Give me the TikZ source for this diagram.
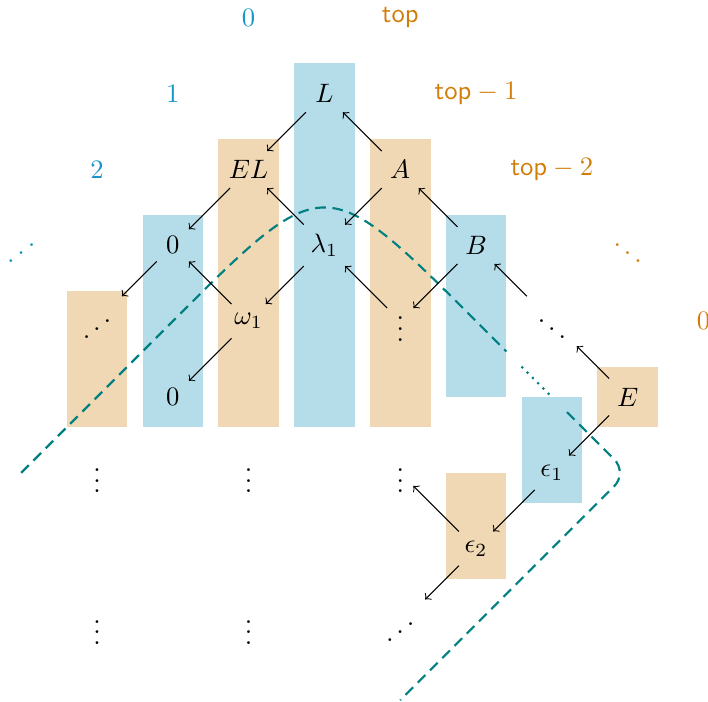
\documentclass[tikz,border=0pt]{standalone}
\usetikzlibrary{arrows}
\definecolor{barblue}{RGB}{180,221,233}
\definecolor{barorange}{RGB}{240,216,180}
\definecolor{lblblue}{RGB}{22,150,200}
\definecolor{lblorange}{RGB}{208,125,10}
\newcommand{\myiddots}{\reflectbox{$\ddots$}}
\begin{document}
\begin{tikzpicture}[
  bluebar/.style={fill=barblue,draw=none},
  orangebar/.style={fill=barorange,draw=none},
  bluelbl/.style={text=lblblue},
  orangelbl/.style={text=lblorange},
  arr/.style={->,black,line width=0.4pt},
  curvedash/.style={teal,line width=0.8pt,dash pattern=on 4pt off 2.5pt},
  curvedot/.style={teal,line width=0.8pt,dotted}
]
\useasboundingbox (-1.28,-9.02) rectangle (8.06,0.237);
% bars
\fill[orangebar] (-0.4,-3.6) rectangle (0.4,-5.4);
\fill[bluebar] (0.6,-2.6) rectangle (1.4,-5.4);
\fill[orangebar] (1.6,-1.6) rectangle (2.4,-5.4);
\fill[bluebar] (2.6,-0.6) rectangle (3.4,-5.4);
\fill[orangebar] (3.6,-1.6) rectangle (4.4,-5.4);
\fill[bluebar] (4.6,-2.6) rectangle (5.4,-5.0);
\fill[bluebar] (5.6,-5.0) rectangle (6.4,-6.4);
\fill[orangebar] (6.6,-4.6) rectangle (7.4,-5.4);
\fill[orangebar] (4.6,-6.0) rectangle (5.4,-7.4);
% dashed curve
\draw[curvedash] (-1,-6) -- (1,-4) .. controls (3,-2) and (3,-2) .. (5,-4) -- (5.4,-4.4);
\draw[curvedot] (5.6,-4.6) -- (6,-5);
\draw[curvedash, rounded corners=0.25cm] (6.2,-5.2) -- (7,-6) -- (4,-9);
% labels
\node[bluelbl] (b0) at (2,0) {$0$};
\node[bluelbl] (b1) at (1,-1) {$1$};
\node[bluelbl] (b2) at (0,-2) {$2$};
\node[bluelbl] (b3) at (-1,-3) {\myiddots};
\node[orangelbl] (o0) at (4,0) {$\mathsf{top}$};
\node[orangelbl] (o1) at (5,-1) {$\mathsf{top}-1$};
\node[orangelbl] (o2) at (6,-2) {$\mathsf{top}-2$};
\node[orangelbl] (o3) at (7,-3) {$\ddots$};
\node[orangelbl] (o4) at (8,-4) {$0$};
% nodes
\node (L) at (3,-1) {$L$};
\node (EL) at (2,-2) {$EL$};
\node (A) at (4,-2) {$A$};
\node (z1) at (1,-3) {$0$};
\node (lam) at (3,-3) {$\lambda_1$};
\node (B) at (5,-3) {$B$};
\node (id1) at (0,-4) {\myiddots};
\node (om) at (2,-4) {$\omega_1$};
\node (vd1) at (4,-4) {$\vdots$};
\node (dd) at (6,-4) {$\ddots$};
\node (z2) at (1,-5) {$0$};
\node (E) at (7,-5) {$E$};
\node (vda) at (0,-6) {$\vdots$};
\node (vdb) at (2,-6) {$\vdots$};
\node (vdc) at (4,-6) {$\vdots$};
\node (eps1) at (6,-6) {$\epsilon_1$};
\node (eps2) at (5,-7) {$\epsilon_2$};
\node (vdd) at (0,-8) {$\vdots$};
\node (vde) at (2,-8) {$\vdots$};
\node (id2) at (4,-8) {\myiddots};
% arrows
\draw[arr] (L) -- (EL);
\draw[arr] (A) -- (L);
\draw[arr] (EL) -- (z1);
\draw[arr] (lam) -- (EL);
\draw[arr] (A) -- (lam);
\draw[arr] (B) -- (A);
\draw[arr] (z1) -- (id1);
\draw[arr] (om) -- (z1);
\draw[arr] (lam) -- (om);
\draw[arr] (vd1) -- (lam);
\draw[arr] (B) -- (vd1);
\draw[arr] (dd) -- (B);
\draw[arr] (om) -- (z2);
\draw[arr] (E) -- (dd);
\draw[arr] (E) -- (eps1);
\draw[arr] (eps1) -- (eps2);
\draw[arr] (eps2) -- (vdc);
\draw[arr] (eps2) -- (id2);
\end{tikzpicture}
\end{document}
